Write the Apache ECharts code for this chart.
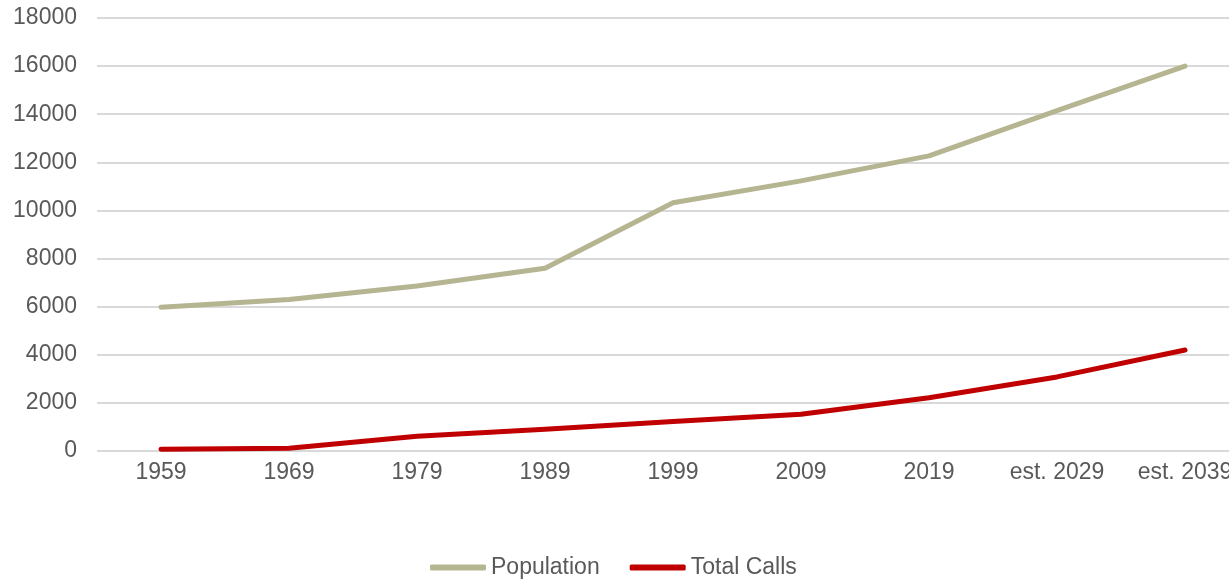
<!DOCTYPE html>
<html>
<head>
<meta charset="utf-8">
<script src="https://cdn.jsdelivr.net/npm/echarts@6/dist/echarts.min.js"></script>
<style>
  html, body { margin: 0; padding: 0; background: #fff; overflow: hidden; }
  #chart { width: 1260px; height: 579px; }
</style>
</head>
<body>
<div id="chart"></div>
<script>
const categories = ['1959', '1969', '1979', '1989', '1999', '2009', '2019', 'est. 2029', 'est. 2039']
const population = [5980, 6300, 6860, 7600, 10320, 11230, 12270, 14150, 16000]
const totalCalls = [70, 110, 610, 900, 1230, 1530, 2210, 3080, 4200]

const textColor = '#595959'
const font = 'Liberation Sans, Arial, sans-serif'

// the plot area runs past the right edge of the window, as in the original
const chart = echarts.init(document.getElementById('chart'))

chart.setOption({
  animation: false,
  textStyle: { fontFamily: font },
  grid: {
    left: 97,
    width: 1152,
    top: 18,
    bottom: 128,
    containLabel: false,
  },
  legend: {
    top: 556,
    left: 430,
    padding: 0,
    itemWidth: 56,
    itemHeight: 6,
    itemGap: 30,
    icon: 'roundRect',
    textStyle: { color: textColor, fontSize: 23, fontFamily: font },
    data: ['Population', 'Total Calls'],
  },
  xAxis: {
    type: 'category',
    data: categories,
    boundaryGap: true,
    axisLine: { show: false },
    axisTick: { show: false },
    axisLabel: {
      color: textColor,
      fontSize: 23,
      fontFamily: font,
      margin: 10,
      interval: 0,
    },
  },
  yAxis: {
    type: 'value',
    min: 0,
    max: 18000,
    interval: 2000,
    axisLine: { show: false },
    axisTick: { show: false },
    axisLabel: {
      color: textColor,
      fontSize: 23,
      fontFamily: font,
      margin: 20,
      formatter: (v) => String(v),
    },
    splitLine: { lineStyle: { color: '#d9d9d9', width: 2 } },
  },
  series: [
    {
      name: 'Population',
      type: 'line',
      data: population,
      symbol: 'none',
      itemStyle: { color: '#b5b592' },
      lineStyle: { color: '#b5b592', width: 5, cap: 'round', join: 'round' },
    },
    {
      name: 'Total Calls',
      type: 'line',
      data: totalCalls,
      symbol: 'none',
      itemStyle: { color: '#c00000' },
      lineStyle: { color: '#c00000', width: 5, cap: 'round', join: 'round' },
    },
  ],
})
</script>
</body>
</html>
